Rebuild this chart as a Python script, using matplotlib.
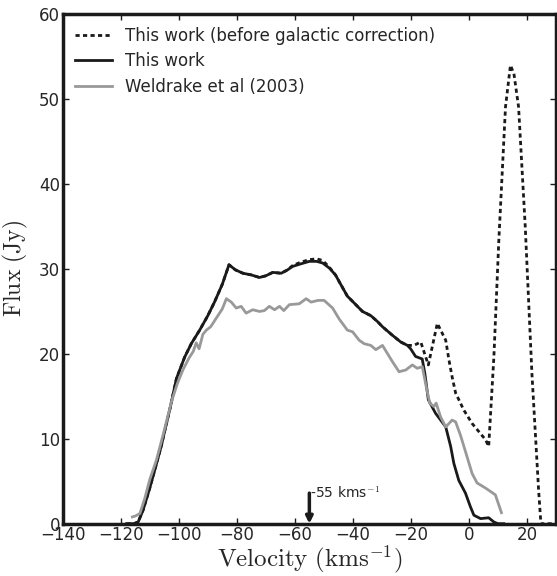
import matplotlib
matplotlib.use("Agg")
import matplotlib.pyplot as plt

plt.rcParams['mathtext.fontset'] = 'cm'
plt.rcParams['font.family'] = ['DejaVu Sans']

# This work (after galactic correction)
work_v = [-118, -115.5, -114, -112.3, -110, -108.3, -106, -104.8, -103, -100.8,
          -98, -95.7, -92.8, -90, -87.7, -85, -82.7, -80.5, -77.9, -75,
          -72.2, -70, -67.6, -64.7, -62.5, -60.8, -58, -55, -52.5, -50.4,
          -48.1, -46, -44.7, -41.9, -39, -36.7, -33.8, -31.5, -29.8, -26.4,
          -23.5, -21.2, -20.1, -18.4, -16.1, -15.2, -14.0, -11.5, -8.0, -6.3,
          -5.2, -3.5, -1.2, 0.5, 1.7, 4.0, 6.8, 8.6, 10, 12]
work_f = [0, 0, 0.2, 1.6, 4.2, 6.3, 9.2, 11.0, 13.6, 17.1,
          19.6, 21.2, 22.8, 24.5, 26.1, 28.2, 30.5, 29.9, 29.5, 29.3,
          29.0, 29.2, 29.6, 29.5, 29.9, 30.3, 30.6, 30.9, 30.9, 30.7,
          30.1, 29.3, 28.5, 26.8, 25.8, 25.0, 24.5, 23.8, 23.2, 22.2,
          21.4, 21.0, 20.6, 19.7, 19.4, 17.7, 14.6, 13.0, 11.4, 9.1,
          7.1, 5.1, 3.6, 2.0, 1.0, 0.6, 0.7, 0.2, 0, 0]

# This work (before galactic correction)
raw_v = [-118, -115.5, -114, -112.3, -110, -108.3, -106, -104.8, -103, -100.8,
         -98, -95.7, -92.8, -90, -87.7, -85, -82.7, -80.5, -77.9, -75,
         -72.2, -70, -67.6, -64.7, -62.5, -60.8, -58, -55, -52.5, -50.4,
         -48.1, -46, -44.7, -41.9, -39, -36.7, -33.8, -31.5, -29.8, -26.4,
         -23.5, -21.2, -19.0, -16.6, -14.0, -10.9, -8.0, -6.9, -5.8, -4.6,
         -1.8, 1.1, 5.7, 6.8, 8.6, 10.3, 12.6, 14.3, 15.5, 17.1,
         19.4, 21.7, 24.0, 24.8, 30]
raw_f = [0, 0, 0.2, 1.6, 4.2, 6.3, 9.2, 11.0, 13.6, 17.1,
         19.6, 21.2, 22.8, 24.5, 26.1, 28.2, 30.5, 29.9, 29.5, 29.3,
         29.0, 29.2, 29.6, 29.5, 29.9, 30.4, 30.8, 31.1, 31.2, 31.0,
         30.2, 29.3, 28.5, 26.8, 25.8, 25.0, 24.5, 23.8, 23.2, 22.2,
         21.4, 21.0, 21.0, 21.4, 18.7, 23.6, 21.6, 19.3, 17.3, 15.4,
         13.4, 11.8, 9.9, 9.1, 19.7, 33.4, 49.1, 54.0, 53.0, 49.1,
         35.0, 17.7, 4.0, 0, 0]

# Weldrake et al (2003)
weld_v = [-116, -115, -113.4, -111.7, -110, -107.7, -105, -102.5, -100.5, -98.6,
          -96.5, -95, -94, -93, -91.7, -90.5, -89, -87.1, -85, -83.6,
          -81.9, -80.2, -78.5, -76.8, -74.5, -72.2, -70.5, -68.8, -67, -65.3,
          -63.8, -61.9, -58.5, -56.1, -54.4, -52, -49.9, -47, -44.7, -41.9,
          -40.1, -37.8, -36.1, -33.8, -32.1, -29.8, -26.4, -24.1, -21.8, -19.5,
          -17.8, -16.1, -14.7, -13.5, -12.1, -11.3, -9.8, -8.0, -5.8, -4.6,
          -2.9, -1.2, 1.1, 2.8, 5.7, 9.1, 11.2]
weld_f = [0.8, 0.9, 1.2, 3.0, 5.2, 7.5, 11.0, 14.4, 16.5, 18.1,
          19.5, 20.3, 21.3, 20.6, 22.3, 22.8, 23.2, 24.2, 25.3, 26.5,
          26.1, 25.4, 25.6, 24.8, 25.2, 25.0, 25.1, 25.6, 25.2, 25.6,
          25.1, 25.8, 25.9, 26.5, 26.1, 26.3, 26.3, 25.4, 24.1, 22.8,
          22.6, 21.6, 21.2, 21.0, 20.5, 21.0, 19.1, 17.9, 18.1, 18.7,
          18.3, 18.5, 16.1, 14.2, 13.8, 14.2, 12.6, 11.4, 12.2, 12.0,
          10.4, 8.5, 5.9, 4.8, 4.2, 3.4, 1.3]

labels = ['This work (before galactic correction)', 'This work', 'Weldrake et al (2003)']
x_ticks = [-140, -120, -100, -80, -60, -40, -20, 0, 20]
y_ticks = [0, 10, 20, 30, 40, 50, 60]
marker_v = -55

text_col = '#262626'
fig = plt.figure(figsize=(5.57, 5.76), dpi=100)
ax = fig.add_axes([0.1126, 0.0908, 0.8856, 0.8844])

ax.plot(raw_v, raw_f, color='#1a1a1a', lw=2.0, linestyle=(0, (1.5, 1.2)), label=labels[0])
ax.plot(work_v, work_f, color='#1a1a1a', lw=2.0, label=labels[1])
ax.plot(weld_v, weld_f, color='#999999', lw=2.0, label=labels[2])

ax.set_xlim(-140, 30)
ax.set_ylim(0, 60)
ax.set_xticks(x_ticks)
ax.set_yticks(y_ticks)
ax.set_xticklabels([('\u2212%d' % -t) if t < 0 else str(t) for t in x_ticks])

for s in ax.spines.values():
    s.set_linewidth(2.5)
    s.set_color('#1a1a1a')
ax.tick_params(direction='in', length=4, width=1, top=True, right=True,
               labelsize=12, colors=text_col, pad=2)
ax.tick_params(axis='both', color='#1a1a1a')

ax.set_xlabel(r'$\mathrm{Velocity\ (kms^{-1})}$', fontsize=18, color=text_col, labelpad=-1)
ax.set_ylabel(r'$\mathrm{Flux\ (Jy)}$', fontsize=17, color=text_col, labelpad=6)

ax.annotate('', xy=(marker_v, 0), xytext=(marker_v, 3.6),
            arrowprops=dict(arrowstyle='-|>', color='#1a1a1a', lw=2.5, mutation_scale=10,
                            shrinkA=0, shrinkB=0))
ax.text(marker_v + 0.3, 3.05, '-55 kms$^{-1}$', fontsize=10, color=text_col,
        ha='left', va='baseline')

leg = ax.legend(loc='upper left', frameon=False, fontsize=12, handlelength=2.2,
                borderaxespad=0.35, labelspacing=0.45, handletextpad=0.8)
for t in leg.get_texts():
    t.set_color(text_col)

fig.savefig('out.png', dpi=100)
